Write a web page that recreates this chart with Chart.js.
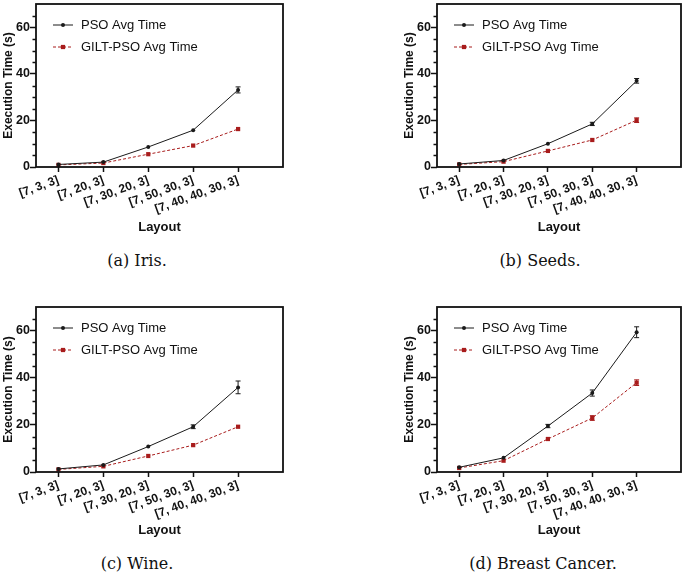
<!DOCTYPE html>
<html>
<head>
<meta charset="utf-8">
<script src="https://cdn.jsdelivr.net/npm/chart.js@4"></script>
<style>
  body { margin: 0; background: #fff; }
  #page { position: relative; width: 685px; height: 573px; overflow: hidden; }
  .panel { position: absolute; }
  .caption { position: absolute; font-family: "DejaVu Serif", serif; font-size: 16px; color: #111; transform: translate(-50%, -50%); white-space: nowrap; }
</style>
</head>
<body>
<div id="page"></div>
<script>
// Network layouts on the x axis
const layouts = ['[7, 3, 3]', '[7, 20, 3]', '[7, 30, 20, 3]', '[7, 50, 30, 3]', '[7, 40, 40, 30, 3]'];
const yTicks = [0, 20, 40, 60];

// Iris
const irisPso = [1.1, 2.1, 8.6, 15.8, 33.1];
const irisPsoErr = [0.2, 0.2, 0.3, 0.5, 1.3];
const irisGilt = [0.9, 1.7, 5.5, 9.2, 16.3];
const irisGiltErr = [0.1, 0.1, 0.2, 0.3, 0.4];

// Seeds
const seedsPso = [1.3, 2.8, 10.0, 18.5, 37.0];
const seedsPsoErr = [0.2, 0.2, 0.3, 0.7, 1.0];
const seedsGilt = [1.1, 2.3, 6.9, 11.6, 20.1];
const seedsGiltErr = [0.1, 0.2, 0.2, 0.3, 1.0];

// Wine
const winePso = [1.3, 3.0, 10.8, 19.2, 35.9];
const winePsoErr = [0.2, 0.3, 0.3, 0.8, 2.7];
const wineGilt = [1.1, 2.4, 6.8, 11.4, 19.2];
const wineGiltErr = [0.1, 0.2, 0.2, 0.3, 0.4];

// Breast Cancer
const cancerPso = [2.0, 6.0, 19.5, 33.5, 59.3];
const cancerPsoErr = [0.3, 0.4, 0.7, 1.3, 2.3];
const cancerGilt = [1.7, 4.8, 14.0, 22.9, 37.9];
const cancerGiltErr = [0.2, 0.3, 0.4, 1.0, 1.2];

const psoLabel = 'PSO Avg Time';
const giltLabel = 'GILT-PSO Avg Time';

const SANS = '"Liberation Sans", Arial, sans-serif';
const RED = '#a81c1c';

// Panel placement on the page (plot edges relative to each canvas)
const panels = [
    { caption: '(a) Iris.', pso: irisPso, psoErr: irisPsoErr, gilt: irisGilt, giltErr: irisGiltErr,
      left: 0, top: 0, width: 342, plotL: 36, plotR: 283, plotT: 3, plotB: 167, capX: 137, capY: 260 },
    { caption: '(b) Seeds.', pso: seedsPso, psoErr: seedsPsoErr, gilt: seedsGilt, giltErr: seedsGiltErr,
      left: 401, top: 0, width: 284, plotL: 36, plotR: 283, plotT: 3, plotB: 167, capX: 540, capY: 260 },
    { caption: '(c) Wine.', pso: winePso, psoErr: winePsoErr, gilt: wineGilt, giltErr: wineGiltErr,
      left: 0, top: 303, width: 342, plotL: 36, plotR: 283, plotT: 3, plotB: 169, capX: 137, capY: 563 },
    { caption: '(d) Breast Cancer.', pso: cancerPso, psoErr: cancerPsoErr, gilt: cancerGilt, giltErr: cancerGiltErr,
      left: 401, top: 303, width: 284, plotL: 36, plotR: 283, plotT: 3, plotB: 169, capX: 543, capY: 563 }
];
const PANEL_H = 240;

// Draws error bars for every dataset that carries an errors array
const errorBarPlugin = {
    id: 'errorBars',
    afterDatasetsDraw(chart) {
        const ctx = chart.ctx;
        const yScale = chart.scales.y;
        chart.data.datasets.forEach((ds, i) => {
            if (!ds.errors) return;
            const meta = chart.getDatasetMeta(i);
            ctx.save();
            ctx.strokeStyle = ds.borderColor;
            ctx.lineWidth = 1;
            meta.data.forEach((pt, j) => {
                const v = ds.data[j].y;
                const e = ds.errors[j];
                const yHi = yScale.getPixelForValue(v + e);
                const yLo = yScale.getPixelForValue(v - e);
                if (yLo - yHi < 3) return;
                ctx.beginPath();
                ctx.moveTo(pt.x, yHi); ctx.lineTo(pt.x, yLo);
                ctx.moveTo(pt.x - 2.5, yHi); ctx.lineTo(pt.x + 2.5, yHi);
                ctx.moveTo(pt.x - 2.5, yLo); ctx.lineTo(pt.x + 2.5, yLo);
                ctx.stroke();
            });
            ctx.restore();
        });
    }
};

// Frame around the plot, minor y ticks and the legend inside the plot
const framePlugin = {
    id: 'frame',
    afterDraw(chart) {
        const ctx = chart.ctx;
        const a = chart.chartArea;
        const yScale = chart.scales.y;
        ctx.save();
        ctx.strokeStyle = '#111';
        ctx.lineWidth = 1.8;
        ctx.strokeRect(a.left, a.top, a.right - a.left, a.bottom - a.top);

        // minor ticks every 5 s
        ctx.lineWidth = 1.3;
        ctx.beginPath();
        for (let v = 5; v < 70; v += 5) {
            if (v % 20 === 0) continue;
            const y = Math.round(yScale.getPixelForValue(v)) + 0.5;
            ctx.moveTo(a.left - 3.5, y); ctx.lineTo(a.left, y);
        }
        ctx.stroke();

        // legend
        ctx.font = '13px ' + SANS;
        ctx.textBaseline = 'middle';
        ctx.fillStyle = '#111';
        chart.data.datasets.forEach((ds, i) => {
            const y = a.top + 21 + i * 22;
            const x0 = a.left + 17, x1 = a.left + 37;
            ctx.strokeStyle = ds.borderColor;
            ctx.lineWidth = ds.borderWidth;
            ctx.setLineDash(ds.borderDash || []);
            ctx.beginPath();
            ctx.moveTo(x0, y); ctx.lineTo(x1, y);
            ctx.stroke();
            ctx.setLineDash([]);
            ctx.fillStyle = ds.pointBackgroundColor;
            Chart.helpers.drawPoint(ctx, { pointStyle: ds.pointStyle, radius: ds.pointRadius, rotation: 0, borderWidth: 0 }, (x0 + x1) / 2, y);
            ctx.fillStyle = '#111';
            ctx.fillText(ds.label, a.left + 45, y + 0.5);
        });
        ctx.restore();
    }
};

function toPoints(values) {
    return values.map((v, i) => ({ x: i, y: v }));
}

const page = document.getElementById('page');

panels.forEach(p => {
    const holder = document.createElement('div');
    holder.className = 'panel';
    holder.style.left = p.left + 'px';
    holder.style.top = p.top + 'px';
    const canvas = document.createElement('canvas');
    canvas.width = p.width;
    canvas.height = PANEL_H;
    canvas.style.width = p.width + 'px';
    canvas.style.height = PANEL_H + 'px';
    holder.appendChild(canvas);
    page.appendChild(holder);

    const cap = document.createElement('div');
    cap.className = 'caption';
    cap.style.left = p.capX + 'px';
    cap.style.top = p.capY + 'px';
    cap.textContent = p.caption;
    page.appendChild(cap);

    new Chart(canvas.getContext('2d'), {
        type: 'line',
        data: {
            datasets: [{
                label: psoLabel,
                data: toPoints(p.pso),
                errors: p.psoErr,
                borderColor: '#1a1a1a',
                backgroundColor: '#1a1a1a',
                pointBackgroundColor: '#1a1a1a',
                borderWidth: 1,
                pointStyle: 'circle',
                pointRadius: 2,
                pointBorderWidth: 0,
                tension: 0
            }, {
                label: giltLabel,
                data: toPoints(p.gilt),
                errors: p.giltErr,
                borderColor: RED,
                backgroundColor: RED,
                pointBackgroundColor: RED,
                borderWidth: 1,
                borderDash: [3, 2],
                pointStyle: 'rect',
                pointRadius: 3,
                pointBorderWidth: 0,
                tension: 0
            }]
        },
        options: {
            responsive: false,
            animation: false,
            devicePixelRatio: 1,
            layout: { padding: { top: p.plotT, right: p.width - p.plotR, left: 0, bottom: 0 } },
            plugins: { legend: { display: false }, tooltip: { enabled: false } },
            scales: {
                x: {
                    type: 'linear',
                    min: -0.5,
                    max: 5,
                    afterBuildTicks: scale => { scale.ticks = layouts.map((_, i) => ({ value: i })); },
                    afterFit: scale => {
                        scale.height = PANEL_H - p.plotB;
                        scale.paddingLeft = 0;
                        scale.paddingRight = 0;
                    },
                    border: { display: false },
                    grid: { drawOnChartArea: false, tickLength: 5, tickColor: '#111', tickWidth: 1.5 },
                    ticks: {
                        minRotation: 20,
                        maxRotation: 20,
                        padding: 1,
                        color: '#111',
                        font: { family: SANS, size: 12, weight: 'bold' },
                        callback: v => layouts[v]
                    },
                    title: {
                        display: true,
                        text: 'Layout',
                        color: '#111',
                        font: { family: SANS, size: 13, weight: 'bold' },
                        padding: { top: 0, bottom: 5 }
                    }
                },
                y: {
                    min: 0,
                    max: 70,
                    afterBuildTicks: scale => { scale.ticks = yTicks.map(v => ({ value: v })); },
                    afterFit: scale => {
                        scale.width = p.plotL;
                        scale.paddingTop = 0;
                        scale.paddingBottom = 0;
                    },
                    border: { display: false },
                    grid: { drawOnChartArea: false, tickLength: 6, tickColor: '#111', tickWidth: 1.5 },
                    ticks: {
                        padding: 0,
                        color: '#111',
                        font: { family: SANS, size: 12.5, weight: 'bold' }
                    },
                    title: {
                        display: true,
                        text: 'Execution Time (s)',
                        color: '#111',
                        font: { family: SANS, size: 12, weight: 'bold' },
                        padding: { top: 1, bottom: 0 }
                    }
                }
            }
        },
        plugins: [errorBarPlugin, framePlugin]
    });
});
</script>
</body>
</html>
